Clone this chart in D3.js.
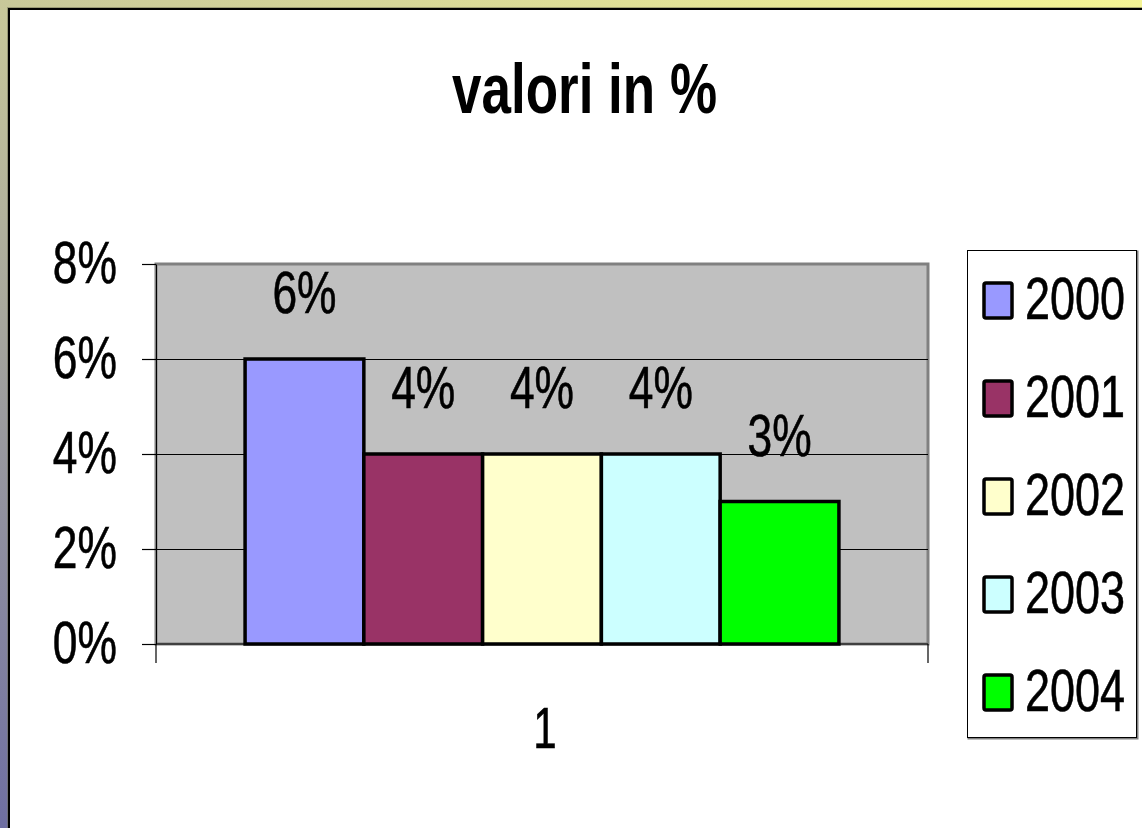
<!DOCTYPE html>
<html>
<head>
<meta charset="utf-8">
<script src="https://cdn.jsdelivr.net/npm/d3@7"></script>
<style>
  html, body { margin: 0; padding: 0; background: #fff; }
  svg { display: block; }
  text { font-family: "Liberation Sans", Arial, sans-serif; fill: #000; }
  .thick { stroke: #000; stroke-width: 0.6px; }
</style>
</head>
<body>
<script>
// ---- data ----
const categories = ["1"];
const seriesNames = ["2000", "2001", "2002", "2003", "2004"];
const seriesValues = [0.06, 0.04, 0.04, 0.04, 0.03];
const seriesColors = ["#9999ff", "#993366", "#ffffcc", "#ccffff", "#00ff00"];
const yTicks = [0, 0.02, 0.04, 0.06, 0.08];
const titleText = "valori in %";

const W = 1142, H = 828;
const svg = d3.select("body").append("svg").attr("width", W).attr("height", H);

// background gradient frame
const defs = svg.append("defs");
const grad = defs.append("linearGradient").attr("id", "bg")
  .attr("gradientUnits", "userSpaceOnUse")
  .attr("x1", 0).attr("y1", H).attr("x2", W * 0.75).attr("y2", -H * 0.35);
grad.append("stop").attr("offset", "0%").attr("stop-color", "#6e6ea2");
grad.append("stop").attr("offset", "45%").attr("stop-color", "#c6c69a");
grad.append("stop").attr("offset", "100%").attr("stop-color", "#f8f894");
svg.append("rect").attr("width", W).attr("height", H).attr("fill", "url(#bg)");
svg.append("rect").attr("x", 7).attr("y", 7).attr("width", W).attr("height", H).attr("fill", "#6a6a50").attr("opacity", 0.5);
svg.append("rect").attr("x", 8).attr("y", 8).attr("width", W).attr("height", H).attr("fill", "#000");
svg.append("rect").attr("x", 10).attr("y", 10).attr("width", W).attr("height", H).attr("fill", "#fff");

// plot geometry
const plot = { left: 156, right: 928, top: 264, bottom: 644 };
const y = d3.scaleLinear().domain([0, 0.08]).range([plot.bottom, plot.top]);
const x0 = d3.scaleBand().domain(categories).range([plot.left, plot.right]).paddingInner(0).paddingOuter(0.15);
const x1 = d3.scaleBand().domain(seriesNames).range([0, x0.bandwidth()]).padding(0);
const color = d3.scaleOrdinal().domain(seriesNames).range(seriesColors);
const crisp = v => Math.round(v) + 0.5;

// plot area
svg.append("rect")
  .attr("x", plot.left).attr("y", plot.top)
  .attr("width", plot.right - plot.left).attr("height", plot.bottom - plot.top)
  .attr("fill", "#c0c0c0").attr("stroke", "#808080").attr("stroke-width", 3);

// gridlines
svg.append("g").selectAll("line").data(yTicks.filter(d => d > 0 && d < 0.08)).join("line")
  .attr("x1", plot.left).attr("x2", plot.right)
  .attr("y1", d => crisp(y(d))).attr("y2", d => crisp(y(d)))
  .attr("stroke", "#000").attr("stroke-width", 1);

// bars
const data = seriesNames.map((s, i) => ({ cat: categories[0], series: s, value: seriesValues[i] }));
const bars = svg.append("g");
bars.selectAll("rect").data(data).join("rect")
  .attr("x", d => x0(d.cat) + x1(d.series))
  .attr("y", d => y(d.value))
  .attr("width", x1.bandwidth())
  .attr("height", d => y(0) - y(d.value))
  .attr("fill", d => color(d.series))
  .attr("stroke", "#000").attr("stroke-width", 3.5);

// data labels (condensed look via scaleX)
const SX = 0.74;
const fmt = d3.format(".0%");
svg.append("g").selectAll("text").data(data).join("text")
  .attr("class", "thick")
  .attr("transform", d => `translate(${x0(d.cat) + x1(d.series) + x1.bandwidth() / 2},${y(d.value) - 46}) scale(${SX},1)`)
  .attr("text-anchor", "middle")
  .attr("font-size", 60)
  .text(d => fmt(d.value));

// y axis
const yAxis = d3.axisLeft(y).tickValues(yTicks).tickFormat(fmt).tickSize(14).tickSizeOuter(0);
const gy = svg.append("g").attr("transform", `translate(${plot.left},0)`).call(yAxis);
gy.select(".domain").attr("stroke", "#000").attr("stroke-width", 1);
gy.selectAll(".tick line").attr("stroke", "#000").attr("stroke-width", 1.2);
gy.selectAll(".tick text")
  .attr("class", "thick")
  .attr("x", null).attr("dy", null)
  .attr("font-size", 60)
  .attr("font-family", "Liberation Sans, Arial, sans-serif")
  .attr("fill", "#000")
  .attr("text-anchor", "end")
  .attr("transform", `translate(-39,18) scale(${SX},1)`);

// x axis line and ticks at category boundaries
svg.append("line")
  .attr("x1", plot.left).attr("x2", plot.right)
  .attr("y1", y(0)).attr("y2", y(0))
  .attr("stroke", "#000").attr("stroke-width", 1);
svg.append("g").selectAll("line").data(x0.range()).join("line")
  .attr("x1", d => d).attr("x2", d => d)
  .attr("y1", y(0)).attr("y2", y(0) + 19)
  .attr("stroke", "#000").attr("stroke-width", 1.2);
svg.append("g").selectAll("text").data(categories).join("text")
  .attr("class", "thick")
  .attr("transform", d => `translate(${x0(d) + x0.bandwidth() / 2 + 3},748) scale(${SX},1)`)
  .attr("text-anchor", "middle")
  .attr("font-size", 57)
  .text(d => d);

// title
svg.append("text")
  .attr("transform", `translate(584.5,113) scale(0.757,1)`)
  .attr("text-anchor", "middle")
  .attr("font-size", 70)
  .attr("font-weight", "bold")
  .text(titleText);

// legend
const leg = { x: 967, y: 250, w: 169, h: 487 };
svg.append("rect").attr("x", leg.x + 1.5).attr("y", leg.y + 1.5).attr("width", leg.w).attr("height", leg.h)
  .attr("fill", "none").attr("stroke", "#808080").attr("stroke-width", 2);
svg.append("rect").attr("x", leg.x + 0.5).attr("y", leg.y + 0.5).attr("width", leg.w).attr("height", leg.h)
  .attr("fill", "#fff").attr("stroke", "#000").attr("stroke-width", 1);
const legY = d3.scalePoint().domain(seriesNames).range([300, 692]);
const li = svg.append("g").selectAll("g").data(seriesNames).join("g")
  .attr("transform", d => `translate(0,${legY(d)})`);
li.append("rect")
  .attr("x", 984).attr("y", -17).attr("width", 28).attr("height", 35).attr("rx", 2)
  .attr("fill", d => color(d)).attr("stroke", "#000").attr("stroke-width", 3.5);
li.append("text")
  .attr("class", "thick")
  .attr("transform", `translate(1025,19) scale(0.75,1)`)
  .attr("font-size", 60)
  .text(d => d);
</script>
</body>
</html>
